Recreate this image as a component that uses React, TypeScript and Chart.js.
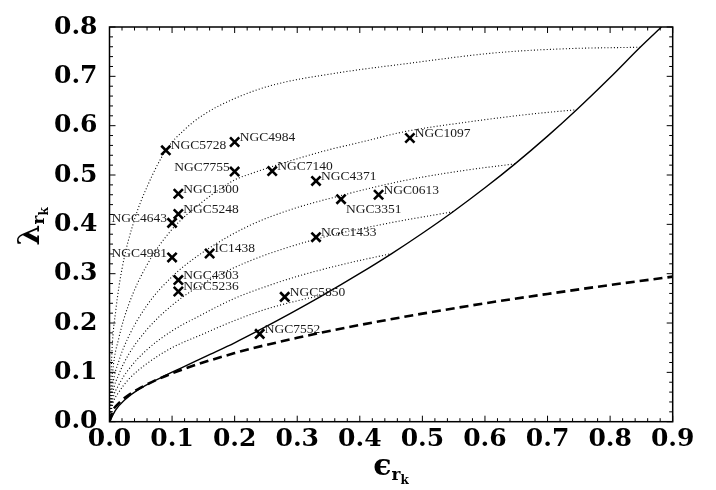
import React, { useEffect, useRef } from "react";
import { Chart, registerables } from "chart.js";

Chart.register(...registerables);

// ---------- data ----------
const galaxyNames = ["NGC5728", "NGC4984", "NGC7755", "NGC7140", "NGC4371", "NGC3351", "NGC0613", "NGC1097", "NGC1300", "NGC5248", "NGC4643", "NGC4981", "IC1438", "NGC4303", "NGC5236", "NGC1433", "NGC5850", "NGC7552"];
const galaxyEps = [0.09, 0.2, 0.2, 0.26, 0.33, 0.37, 0.43, 0.48, 0.11, 0.11, 0.1, 0.1, 0.16, 0.11, 0.11, 0.33, 0.28, 0.24];
const galaxyLambda = [0.55, 0.567, 0.507, 0.508, 0.488, 0.451, 0.46, 0.575, 0.462, 0.421, 0.403, 0.333, 0.341, 0.287, 0.264, 0.374, 0.253, 0.178];
const labelSide = ["right", "right", "left", "right", "right", "below", "right", "right", "right", "right", "left", "left", "right", "right", "right", "right", "right", "right"];

// edge-on (solid) line
const solidEps = [0, 0.01, 0.025, 0.046, 0.083, 0.12, 0.153, 0.2, 0.24, 0.29, 0.342, 0.4, 0.451, 0.5, 0.549, 0.6, 0.648, 0.7, 0.7465, 0.8, 0.848, 0.882];
const solidLambda = [0, 0.024, 0.045, 0.065, 0.09, 0.112, 0.132, 0.16, 0.186, 0.22, 0.257, 0.3005, 0.3408, 0.382, 0.4256, 0.4741, 0.5226, 0.5788, 0.6323, 0.6976, 0.759, 0.8];

// dashed divider line
const dashedEps = [0, 0.005, 0.01, 0.025, 0.05, 0.1, 0.2, 0.3, 0.4, 0.5, 0.6, 0.7, 0.8, 0.9];
const dashedLambda = [0, 0.022, 0.031, 0.049, 0.069, 0.098, 0.139, 0.17, 0.196, 0.219, 0.24, 0.259, 0.277, 0.294];

// dotted inclination curves
const dot1Eps = [0, 0.004, 0.01, 0.02, 0.04, 0.06, 0.09, 0.12, 0.15, 0.2, 0.26, 0.37, 0.47, 0.62, 0.73, 0.848];
const dot1Lambda = [0, 0.145, 0.225, 0.31, 0.41, 0.476, 0.55, 0.592, 0.622, 0.655, 0.682, 0.708, 0.725, 0.748, 0.756, 0.759];
const dot2Eps = [0, 0.005, 0.015, 0.03, 0.06, 0.1, 0.15, 0.2, 0.2245, 0.25, 0.3, 0.35, 0.4, 0.472, 0.57, 0.677, 0.7465];
const dot2Lambda = [0, 0.1, 0.17, 0.235, 0.318, 0.39, 0.447, 0.49, 0.502, 0.513, 0.533, 0.551, 0.566, 0.588, 0.607, 0.624, 0.6323];
const dot3Eps = [0, 0.005, 0.015, 0.03, 0.06, 0.1, 0.15, 0.2245, 0.29, 0.3656, 0.472, 0.5708, 0.648];
const dot3Lambda = [0, 0.072, 0.123, 0.171, 0.236, 0.294, 0.344, 0.398, 0.43, 0.457, 0.489, 0.51, 0.5226];
const dot4Eps = [0, 0.005, 0.015, 0.03, 0.06, 0.1, 0.15, 0.2245, 0.33, 0.44, 0.549];
const dot4Lambda = [0, 0.056, 0.096, 0.135, 0.187, 0.236, 0.28, 0.326, 0.37, 0.401, 0.4256];
const dot5Eps = [0, 0.005, 0.015, 0.03, 0.06, 0.1, 0.1446, 0.2, 0.25, 0.304, 0.38, 0.451];
const dot5Lambda = [0, 0.044, 0.075, 0.105, 0.146, 0.184, 0.215, 0.25, 0.274, 0.296, 0.321, 0.3408];
const dot6Eps = [0, 0.005, 0.015, 0.03, 0.06, 0.1, 0.15, 0.2, 0.25, 0.3, 0.342];
const dot6Lambda = [0, 0.035, 0.06, 0.085, 0.118, 0.15, 0.178, 0.205, 0.228, 0.245, 0.257];

const xTickValues = [0, 0.1, 0.2, 0.3, 0.4, 0.5, 0.6, 0.7, 0.8, 0.9];
const xTickLabels = ["0.0", "0.1", "0.2", "0.3", "0.4", "0.5", "0.6", "0.7", "0.8", "0.9"];
const yTickValues = [0, 0.1, 0.2, 0.3, 0.4, 0.5, 0.6, 0.7, 0.8];
const yTickLabels = ["0.0", "0.1", "0.2", "0.3", "0.4", "0.5", "0.6", "0.7", "0.8"];

// ---------- helpers ----------
const pairs = (xs: number[], ys: number[]) => xs.map((x, i) => ({ x, y: ys[i] }));

const curve = (xs: number[], ys: number[], width: number, dash: number[]) => ({
  type: "line" as const,
  data: pairs(xs, ys),
  showLine: true,
  pointRadius: 0,
  borderColor: "#000",
  borderWidth: width,
  borderDash: dash,
  cubicInterpolationMode: "monotone" as const,
  fill: false,
});

const decorPlugin = {
  id: "decor",
  afterDatasetsDraw(chart: any) {
    const { ctx, chartArea } = chart;
    const xs = chart.scales.x;
    const ys = chart.scales.y;
    const { left, right, top, bottom } = chartArea;

    // point labels
    ctx.save();
    ctx.font = '13.5px "Liberation Serif"';
    ctx.fillStyle = "#1a1a1a";
    ctx.textBaseline = "alphabetic";
    galaxyNames.forEach((name, i) => {
      const px = xs.getPixelForValue(galaxyEps[i]);
      const py = ys.getPixelForValue(galaxyLambda[i]);
      const side = labelSide[i];
      if (side === "left") {
        ctx.textAlign = "right";
        ctx.fillText(name, px - 5, py - 0.5);
      } else if (side === "below") {
        ctx.textAlign = "left";
        ctx.fillText(name, px + 5, py + 13.5);
      } else {
        ctx.textAlign = "left";
        ctx.fillText(name, px + 5, py - 1);
      }
    });
    ctx.restore();

    // frame
    ctx.save();
    ctx.strokeStyle = "#000";
    ctx.lineWidth = 1.5;
    ctx.strokeRect(left, top, right - left, bottom - top);

    // inward ticks, all four sides
    ctx.lineWidth = 1;
    ctx.beginPath();
    for (let k = 0; k <= 45; k++) {
      const v = k * 0.02;
      const major = k % 5 === 0;
      const len = major ? 6 : 3.5;
      const p = xs.getPixelForValue(v);
      ctx.moveTo(p, bottom);
      ctx.lineTo(p, bottom - len);
      ctx.moveTo(p, top);
      ctx.lineTo(p, top + len);
    }
    for (let k = 0; k <= 40; k++) {
      const v = k * 0.02;
      const major = k % 5 === 0;
      const len = major ? 6 : 3.5;
      const p = ys.getPixelForValue(v);
      ctx.moveTo(left, p);
      ctx.lineTo(left + len, p);
      ctx.moveTo(right, p);
      ctx.lineTo(right - len, p);
    }
    ctx.stroke();
    ctx.restore();
  },
  afterDraw(chart: any) {
    const { ctx, chartArea } = chart;
    const drawTitle = (main: string, cx: number, cy: number, rot: number) => {
      ctx.save();
      ctx.translate(cx, cy);
      ctx.rotate(rot);
      ctx.fillStyle = "#000";
      ctx.textAlign = "left";
      ctx.textBaseline = "alphabetic";
      ctx.font = 'bold 30px "DejaVu Serif"';
      const w1 = ctx.measureText(main).width;
      ctx.font = 'bold 17px "DejaVu Serif"';
      const w2 = ctx.measureText("r").width;
      ctx.font = 'bold 12px "DejaVu Serif"';
      const w3 = ctx.measureText("k").width;
      let x = -(w1 + w2 + w3) / 2;
      ctx.font = 'bold 30px "DejaVu Serif"';
      ctx.fillText(main, x, 0);
      x += w1;
      ctx.font = 'bold 17px "DejaVu Serif"';
      ctx.fillText("r", x, 5);
      x += w2;
      ctx.font = 'bold 12px "DejaVu Serif"';
      ctx.fillText("k", x, 9);
      ctx.restore();
    };
    const midX = (chartArea.left + chartArea.right) / 2;
    const midY = (chartArea.top + chartArea.bottom) / 2;
    drawTitle("ϵ", midX, 475, 0);
    drawTitle("λ", 39, midY + 2, -Math.PI / 2);
  },
};

export default function App() {
  const ref = useRef<HTMLCanvasElement | null>(null);

  useEffect(() => {
    document.body.style.margin = "0";
    const canvas = ref.current;
    if (!canvas) return;
    const tickFont = { family: '"DejaVu Serif"', size: 25, weight: "bold" as const };
    const chart = new Chart(canvas, {
      type: "scatter",
      data: {
        datasets: [
          curve(dot1Eps, dot1Lambda, 1.1, [1, 2.2]),
          curve(dot2Eps, dot2Lambda, 1.1, [1, 2.2]),
          curve(dot3Eps, dot3Lambda, 1.1, [1, 2.2]),
          curve(dot4Eps, dot4Lambda, 1.1, [1, 2.2]),
          curve(dot5Eps, dot5Lambda, 1.1, [1, 2.2]),
          curve(dot6Eps, dot6Lambda, 1.1, [1, 2.2]),
          curve(solidEps, solidLambda, 1.4, []),
          curve(dashedEps, dashedLambda, 2.6, [9, 5]),
          {
            type: "scatter" as const,
            data: pairs(galaxyEps, galaxyLambda),
            pointStyle: "crossRot",
            pointRadius: 6.5,
            pointBorderWidth: 2.6,
            borderColor: "#000",
            backgroundColor: "#000",
            showLine: false,
          },
        ] as any,
      },
      options: {
        animation: false,
        responsive: true,
        maintainAspectRatio: false,
        layout: { padding: { top: 13.3, right: 43.3, left: 0, bottom: 0 } },
        plugins: { legend: { display: false }, tooltip: { enabled: false } },
        scales: {
          x: {
            type: "linear",
            min: 0,
            max: 0.9,
            afterFit(s: any) {
              s.height = 68.3;
            },
            afterBuildTicks(s: any) {
              s.ticks = xTickValues.map((v) => ({ value: v }));
            },
            ticks: {
              autoSkip: false,
              maxRotation: 0,
              padding: 3,
              color: "#000",
              font: tickFont,
              callback: (_v: any, i: number) => xTickLabels[i],
            },
            grid: { display: false, drawTicks: false },
            border: { display: false },
          },
          y: {
            type: "linear",
            min: 0,
            max: 0.8,
            afterFit(s: any) {
              s.width = 109.5;
            },
            afterBuildTicks(s: any) {
              s.ticks = yTickValues.map((v) => ({ value: v }));
            },
            ticks: {
              autoSkip: false,
              padding: 12,
              color: "#000",
              font: tickFont,
              callback: (_v: any, i: number) => yTickLabels[i],
            },
            grid: { display: false, drawTicks: false },
            border: { display: false },
          },
        },
      } as any,
      plugins: [decorPlugin],
    });
    return () => chart.destroy();
  }, []);

  return (
    <div style={{ width: 716, height: 490, position: "relative" }}>
      <canvas ref={ref} />
    </div>
  );
}
